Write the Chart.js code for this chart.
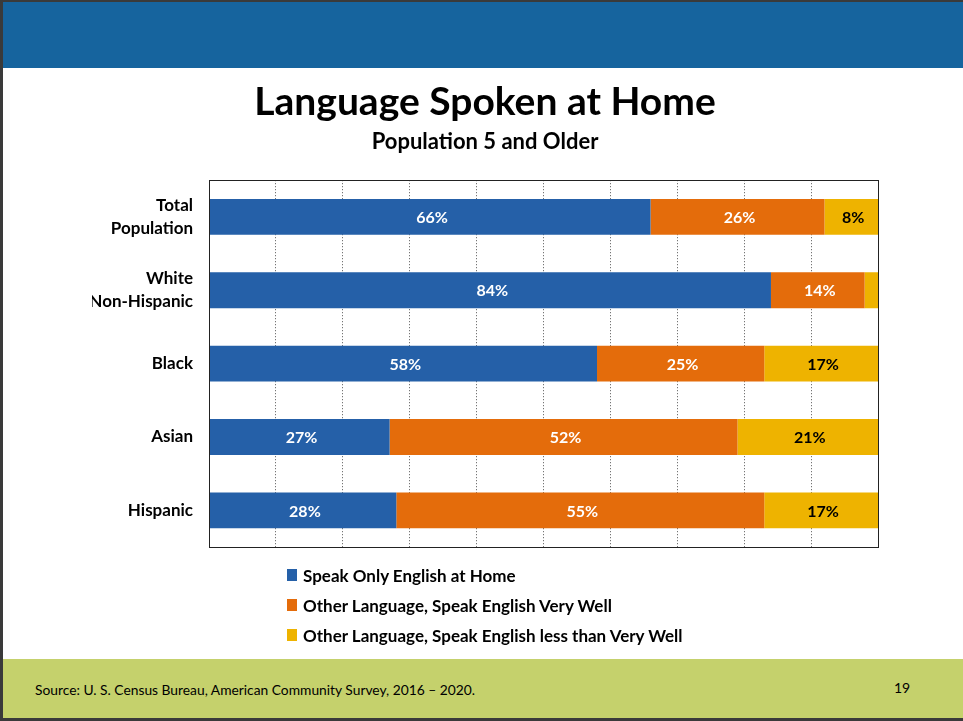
<!DOCTYPE html>
<html>
<head>
<meta charset="utf-8">
<script src="https://cdn.jsdelivr.net/npm/chart.js@4"></script>
<style>
  body { margin: 0; background: #fff; font-family: Lato, sans-serif; }
  #slide { position: relative; width: 963px; height: 721px; overflow: hidden; background: #fff; }
  #header { position: absolute; left: 0; top: 0; width: 963px; height: 68px; background: #16649E; }
  #footer { position: absolute; left: 0; top: 659px; width: 963px; height: 62px; background: #C5D16C; }
  #edgeTop { position: absolute; left: 0; top: 0; width: 963px; height: 2px; background: #3a3a3a; }
  #edgeLeft { position: absolute; left: 0; top: 0; width: 3px; height: 721px; background: #3a3a3a; }
  #edgeBottom { position: absolute; left: 0; top: 718px; width: 963px; height: 3px; background: #3a3a3a; }
  #langChart { position: absolute; left: 0; top: 68px; }
  #legend { position: absolute; left: 287px; top: 560px; }
  .item { height: 30px; display: flex; align-items: center; font-weight: bold; font-size: 17px; color: #000; }
  .swatch { width: 10px; height: 12px; margin-right: 6px; }
  #source { position: absolute; left: 35px; top: 681px; font-size: 13.8px; color: #000; }
  #page { position: absolute; left: 894px; top: 679px; font-size: 14px; color: #000; }
</style>
</head>
<body>
<div id="slide">
  <div id="header"></div>
  <div id="footer"></div>
  <div id="edgeTop"></div>
  <div id="edgeLeft"></div>
  <div id="edgeBottom"></div>
  <canvas id="langChart" width="963" height="518"></canvas>
  <div id="legend"></div>
  <div id="source">Source: U. S. Census Bureau, American Community Survey, 2016 – 2020.</div>
  <div id="page">19</div>
</div>
<script>
const groups = [['Total', 'Population'], ['White', 'Non-Hispanic'], 'Black', 'Asian', 'Hispanic'];
const seriesNames = [
    'Speak Only English at Home',
    'Other Language, Speak English Very Well',
    'Other Language, Speak English less than Very Well'
];
const englishOnly = [66, 84, 58, 27, 28];
const veryWell = [26, 14, 25, 52, 55];
const lessThanVeryWell = [8, 2, 17, 21, 17];

const colors = ['#2560A8', '#E46C0B', '#EEB300'];
const labelColors = ['#fff', '#fff', '#000'];

// percent labels in the middle of each segment
const barLabels = {
    id: 'barLabels',
    afterDatasetsDraw(chart) {
        const ctx = chart.ctx;
        ctx.save();
        ctx.font = 'bold 16px Lato';
        ctx.textAlign = 'center';
        ctx.textBaseline = 'middle';
        chart.data.datasets.forEach((ds, i) => {
            chart.getDatasetMeta(i).data.forEach((bar, j) => {
                const v = ds.data[j];
                if (v < 5)
                    return;
                const c = bar.getCenterPoint();
                ctx.fillStyle = labelColors[i];
                ctx.fillText(v + '%', c.x + 2, c.y + 1);
            });
        });
        ctx.restore();
    }
};

// solid frame round the plot area
const plotFrame = {
    id: 'plotFrame',
    afterDraw(chart) {
        const a = chart.chartArea;
        const ctx = chart.ctx;
        ctx.save();
        ctx.strokeStyle = '#222';
        ctx.lineWidth = 1;
        ctx.strokeRect(Math.round(a.left) + 0.5, Math.round(a.top) + 0.5,
            Math.round(a.right - a.left), Math.round(a.bottom - a.top));
        ctx.restore();
    }
};

const chart = new Chart(document.getElementById('langChart'), {
    type: 'bar',
    data: {
        labels: groups,
        datasets: [
            { label: seriesNames[0], data: englishOnly, backgroundColor: colors[0] },
            { label: seriesNames[1], data: veryWell, backgroundColor: colors[1] },
            { label: seriesNames[2], data: lessThanVeryWell, backgroundColor: colors[2] }
        ]
    },
    options: {
        indexAxis: 'y',
        responsive: false,
        animation: false,
        // left padding keeps the title centred on the slide
        layout: { padding: { left: 92, right: 85, top: 0, bottom: 0 } },
        datasets: { bar: { categoryPercentage: 1, barPercentage: 0.49 } },
        scales: {
            x: {
                stacked: true,
                min: 0,
                max: 100,
                ticks: { display: false, stepSize: 10 },
                grid: { color: '#555', drawTicks: false },
                border: { display: false, dash: [1, 2] },
                afterFit(scale) { scale.height = 2; }
            },
            y: {
                stacked: true,
                grid: { display: false, drawTicks: false },
                border: { display: false },
                ticks: {
                    color: '#000',
                    padding: 16,
                    font: { family: 'Lato', size: 17, weight: 'bold', lineHeight: 1.35 }
                },
                afterFit(scale) { scale.width = 117; }
            }
        },
        plugins: {
            legend: { display: false },
            tooltip: { enabled: false },
            title: {
                display: true,
                text: 'Language Spoken at Home',
                color: '#000',
                font: { family: 'Lato', size: 39, weight: 'bold', lineHeight: 1.2 },
                padding: { top: 11, bottom: 0 }
            },
            subtitle: {
                display: true,
                text: 'Population 5 and Older',
                color: '#000',
                font: { family: 'Lato', size: 22, weight: 'bold', lineHeight: 1.2 },
                padding: { top: 3, bottom: 25 }
            }
        }
    },
    plugins: [barLabels, plotFrame]
});

const legend = document.getElementById('legend');
chart.data.datasets.forEach(ds => {
    const row = document.createElement('div');
    row.className = 'item';
    const sw = document.createElement('span');
    sw.className = 'swatch';
    sw.style.background = ds.backgroundColor;
    row.appendChild(sw);
    row.appendChild(document.createTextNode(ds.label));
    legend.appendChild(row);
});
</script>
</body>
</html>
